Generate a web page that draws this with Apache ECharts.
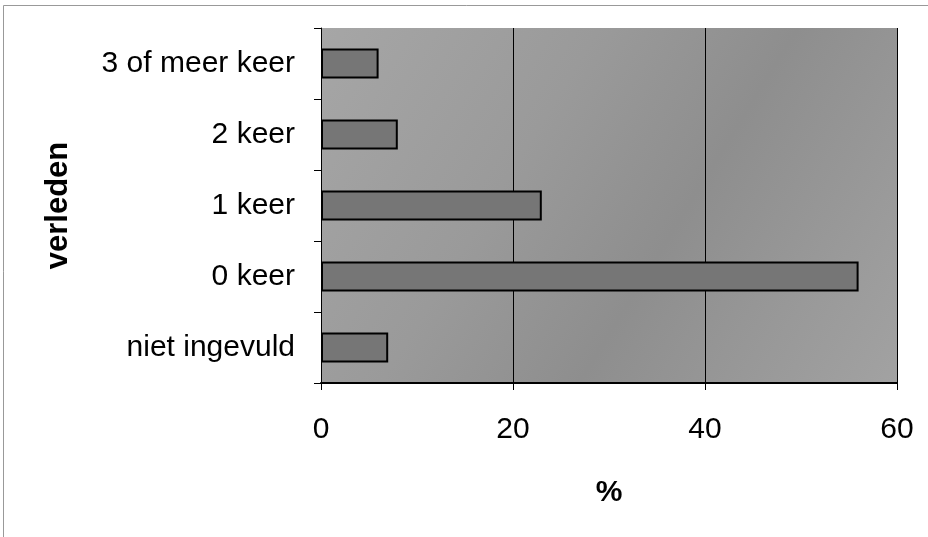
<!DOCTYPE html>
<html>
<head>
<meta charset="utf-8">
<script src="https://cdn.jsdelivr.net/npm/echarts@6/dist/echarts.min.js"></script>
<style>
html,body{margin:0;padding:0;background:#fff;}
#chart{width:928px;height:537px;}
</style>
</head>
<body>
<div id="chart"></div>
<script>
var categories = ['niet ingevuld', '0 keer', '1 keer', '2 keer', '3 of meer keer'];
var values = [7, 56, 23, 8, 6];
var xTicks = [0, 20, 40, 60];
var xName = '%';
var yName = 'verleden';

var chart = echarts.init(document.getElementById('chart'));
var font = '"Liberation Sans", Arial, sans-serif';
chart.setOption({
  animation: false,
  backgroundColor: '#ffffff',
  graphic: [{
    type: 'rect',
    shape: {x: 3.5, y: 5.5, width: 940, height: 560},
    style: {fill: 'none', stroke: '#999', lineWidth: 1},
    silent: true
  }],
  grid: {
    left: 321, top: 28, right: 31, bottom: 154,
    show: true,
    borderWidth: 0,
    backgroundColor: {
      type: 'linear', x: 0, y: 0, x2: 1, y2: 1,
      colorStops: [
        {offset: 0, color: '#a6a6a6'},
        {offset: 0.35, color: '#9a9a9a'},
        {offset: 0.6, color: '#8e8e8e'},
        {offset: 1, color: '#a2a2a2'}
      ]
    }
  },
  xAxis: {
    type: 'value',
    min: xTicks[0], max: xTicks[xTicks.length - 1], interval: xTicks[1] - xTicks[0],
    name: xName,
    nameLocation: 'middle',
    nameGap: 95,
    nameTextStyle: {fontFamily: font, fontSize: 30, fontWeight: 'bold', color: '#000'},
    axisLine: {show: true, lineStyle: {color: '#000', width: 2}},
    axisTick: {show: true, length: 7, lineStyle: {color: '#000', width: 1}},
    axisLabel: {fontFamily: font, fontSize: 30, color: '#000', margin: 32},
    splitLine: {show: true, lineStyle: {color: '#000', width: 1}}
  },
  yAxis: {
    type: 'category',
    data: categories,
    name: yName,
    nameLocation: 'middle',
    nameGap: 247,
    nameRotate: 90,
    nameTextStyle: {fontFamily: font, fontSize: 31, fontWeight: 'bold', color: '#000'},
    axisLine: {show: true, lineStyle: {color: '#000', width: 1}},
    axisTick: {show: true, length: 7, lineStyle: {color: '#000', width: 1}},
    axisLabel: {fontFamily: font, fontSize: 30, color: '#000', margin: 26},
    splitLine: {show: false}
  },
  series: [{
    type: 'bar',
    data: values,
    barWidth: '42%',
    itemStyle: {color: '#767676', borderColor: '#000', borderWidth: 2}
  }]
});
</script>
</body>
</html>
